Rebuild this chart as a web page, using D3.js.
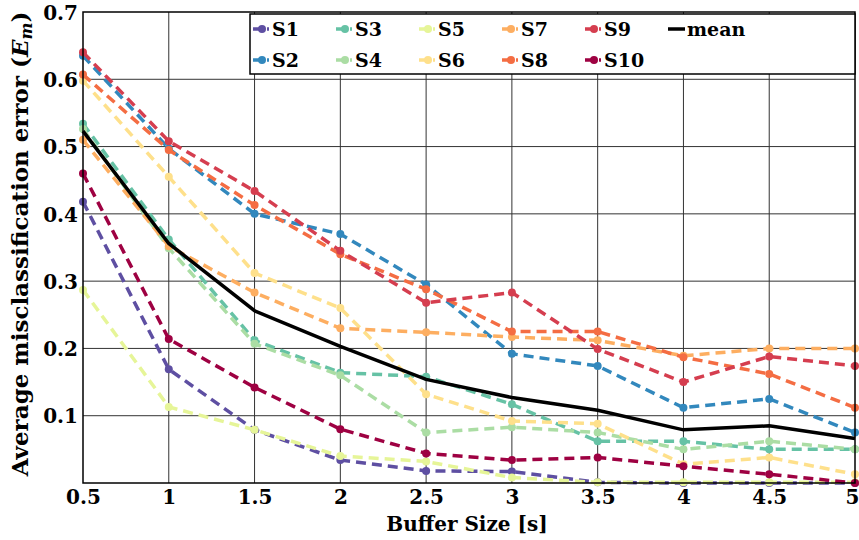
<!DOCTYPE html>
<html><head><meta charset="utf-8">
<script src="https://cdn.jsdelivr.net/npm/d3@7"></script>
<style>
body{margin:0;background:#fff;}
</style></head>
<body><svg id="c" width="859" height="540"></svg>
<script>
const bufferSizes = [0.5, 1, 1.5, 2, 2.5, 3, 3.5, 4, 4.5, 5];
const xTicks = [0.5, 1, 1.5, 2, 2.5, 3, 3.5, 4, 4.5, 5];
const yTicks = [0.1, 0.2, 0.3, 0.4, 0.5, 0.6, 0.7];
const seriesNames = ["S1","S2","S3","S4","S5","S6","S7","S8","S9","S10"];
const seriesColors = ["#5e4fa2","#3288bd","#66c2a5","#abdda4","#e6f598","#fee08b","#fdae61","#f46d43","#d53e4f","#9e0142"];
const S1  = [0.418, 0.169, 0.079, 0.034, 0.018, 0.017, 0.001, 0.0, 0.0, 0.0];
const S2  = [0.635, 0.497, 0.400, 0.370, 0.295, 0.192, 0.174, 0.112, 0.125, 0.075];
const S3  = [0.534, 0.362, 0.212, 0.164, 0.158, 0.117, 0.062, 0.062, 0.050, 0.050];
const S4  = [0.526, 0.349, 0.207, 0.160, 0.075, 0.083, 0.075, 0.050, 0.062, 0.050];
const S5  = [0.287, 0.113, 0.079, 0.040, 0.032, 0.008, 0.001, 0.001, 0.001, 0.001];
const S6  = [0.598, 0.455, 0.312, 0.260, 0.132, 0.092, 0.088, 0.028, 0.038, 0.013];
const S7  = [0.510, 0.352, 0.283, 0.230, 0.224, 0.217, 0.212, 0.189, 0.200, 0.200];
const S8  = [0.607, 0.495, 0.413, 0.340, 0.288, 0.225, 0.225, 0.187, 0.162, 0.112];
const S9  = [0.640, 0.508, 0.434, 0.345, 0.268, 0.283, 0.199, 0.150, 0.188, 0.174];
const S10 = [0.460, 0.214, 0.142, 0.080, 0.044, 0.034, 0.038, 0.025, 0.013, 0.0];
const meanValues = [0.523, 0.356, 0.256, 0.203, 0.154, 0.127, 0.108, 0.079, 0.085, 0.066];
const seriesValues = [S1,S2,S3,S4,S5,S6,S7,S8,S9,S10];

const FONT = "'DejaVu Serif', 'Liberation Serif', serif";
const svg = d3.select("#c");
const L = 83, R = 855, T = 12, B = 483;
const x = d3.scaleLinear().domain([0.5, 5]).range([L, R]);
const y = d3.scaleLinear().domain([0, 0.7]).range([B, T]);

// grid
svg.append("g").selectAll("line").data(xTicks.slice(1, -1)).join("line")
  .attr("x1", d => x(d)).attr("x2", d => x(d)).attr("y1", T).attr("y2", B)
  .attr("stroke", "#333").attr("stroke-width", 1);
svg.append("g").selectAll("line").data(yTicks.slice(0, -1)).join("line")
  .attr("x1", L).attr("x2", R).attr("y1", d => y(d)).attr("y2", d => y(d))
  .attr("stroke", "#333").attr("stroke-width", 1);

// axes
const xa = svg.append("g").attr("transform", `translate(0,${B})`)
  .call(d3.axisBottom(x).tickValues(xTicks).tickSize(0).tickPadding(7).tickFormat(d3.format("")));
xa.select(".domain").remove();
xa.attr("font-family", FONT).attr("font-weight", "bold");
xa.selectAll("text").attr("font-size", 20).attr("fill", "#000")
  .attr("dx", d => d === 5 ? -3 : 0);
const ya = svg.append("g").attr("transform", `translate(${L},0)`)
  .call(d3.axisLeft(y).tickValues(yTicks).tickSize(0).tickPadding(5).tickFormat(d3.format(".1f")));
ya.select(".domain").remove();
ya.attr("font-family", FONT).attr("font-weight", "bold");
ya.selectAll("text").attr("font-size", 20).attr("fill", "#000").attr("dy", "0.36em");

// series
const line = d3.line().x((d, i) => x(bufferSizes[i])).y(d => y(d));
seriesValues.forEach((vals, k) => {
  const g = svg.append("g");
  g.append("path").datum(vals).attr("d", line).attr("fill", "none")
    .attr("stroke", seriesColors[k]).attr("stroke-width", 3.5)
    .attr("stroke-dasharray", "10,6");
  g.selectAll("circle").data(vals).join("circle")
    .attr("cx", (d, i) => x(bufferSizes[i])).attr("cy", d => y(d)).attr("r", 4)
    .attr("fill", seriesColors[k]);
});
svg.append("path").datum(meanValues).attr("d", line).attr("fill", "none")
  .attr("stroke", "#000").attr("stroke-width", 3.5);

// frame
svg.append("rect").attr("x", L).attr("y", T).attr("width", R - L).attr("height", B - T)
  .attr("fill", "none").attr("stroke", "#000").attr("stroke-width", 1.5);

// legend
const lg = svg.append("g").attr("font-family", FONT).attr("font-weight", "bold");
lg.append("rect").attr("x", 250).attr("y", 14).attr("width", 605).attr("height", 60)
  .attr("fill", "#fff").attr("stroke", "#000").attr("stroke-width", 1.5);
const colX = c => 253 + c * 83;
const rowY = r => 29 + r * 31;
seriesNames.forEach((name, k) => {
  const c = Math.floor(k / 2), r = k % 2;
  const x0 = colX(c), y0 = rowY(r);
  lg.append("line").attr("x1", x0).attr("x2", x0 + 16).attr("y1", y0).attr("y2", y0)
    .attr("stroke", seriesColors[k]).attr("stroke-width", 3.5).attr("stroke-dasharray", "10,4");
  lg.append("circle").attr("cx", x0 + 9).attr("cy", y0).attr("r", 4).attr("fill", seriesColors[k]);
  lg.append("text").attr("x", x0 + 19).attr("y", y0).attr("dy", "0.36em")
    .attr("font-size", 19).text(name);
});
{
  const x0 = colX(5), y0 = rowY(0);
  lg.append("line").attr("x1", x0).attr("x2", x0 + 17).attr("y1", y0).attr("y2", y0)
    .attr("stroke", "#000").attr("stroke-width", 3.5);
  lg.append("text").attr("x", x0 + 19).attr("y", y0).attr("dy", "0.36em")
    .attr("font-size", 19).text("mean");
}

// axis titles
svg.append("text").attr("x", 467).attr("y", 531).attr("text-anchor", "middle")
  .attr("font-family", FONT).attr("font-weight", "bold")
  .attr("font-size", 20).text("Buffer Size [s]");
const yt = svg.append("text").attr("transform", `translate(28,244) rotate(-90)`)
  .attr("font-family", FONT).attr("font-weight", "bold")
  .attr("text-anchor", "middle").attr("font-size", 23);
yt.append("tspan").text("Average misclassification error (");
yt.append("tspan").attr("font-style", "italic").text("E");
yt.append("tspan").attr("font-style", "italic").attr("font-size", 16).attr("dy", 4).text("m");
yt.append("tspan").attr("dy", -4).text(")");
</script></body></html>
